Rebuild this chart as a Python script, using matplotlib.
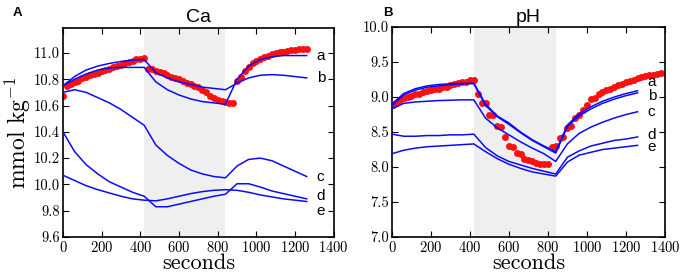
import numpy as np
import matplotlib

matplotlib.use("Agg")
import matplotlib.pyplot as plt
from matplotlib.ticker import FormatStrFormatter

plt.rcParams["font.family"] = "serif"
plt.rcParams["font.serif"] = ["cmr10", "DejaVu Serif"]
plt.rcParams["mathtext.fontset"] = "cm"
plt.rcParams["axes.formatter.use_mathtext"] = True

# ---- data ----
model_t = [0, 60, 120, 180, 240, 300, 360, 420, 480, 540, 600, 660,
           720, 780, 840, 900, 960, 1020, 1080, 1140, 1200, 1260]

ca_a = [10.75, 10.80, 10.84, 10.87, 10.885, 10.89, 10.89, 10.89, 10.78, 10.72, 10.68, 10.65,
        10.63, 10.62, 10.61, 10.80, 10.90, 10.95, 10.97, 10.98, 10.98, 10.98]
ca_b = [10.75, 10.82, 10.87, 10.90, 10.92, 10.935, 10.945, 10.95, 10.85, 10.81, 10.78, 10.76,
        10.74, 10.73, 10.72, 10.77, 10.81, 10.83, 10.835, 10.83, 10.82, 10.81]
ca_c = [10.70, 10.72, 10.70, 10.66, 10.62, 10.57, 10.51, 10.45, 10.30, 10.22, 10.16, 10.11,
        10.08, 10.06, 10.05, 10.14, 10.19, 10.20, 10.18, 10.14, 10.10, 10.06]
ca_d = [10.40, 10.25, 10.15, 10.08, 10.02, 9.98, 9.94, 9.91, 9.83, 9.83, 9.85, 9.87,
        9.89, 9.91, 9.925, 10.005, 10.005, 9.98, 9.95, 9.93, 9.91, 9.89]
ca_e = [10.07, 10.03, 9.99, 9.96, 9.935, 9.91, 9.89, 9.88, 9.875, 9.89, 9.91, 9.93,
        9.945, 9.955, 9.96, 9.955, 9.94, 9.92, 9.905, 9.89, 9.88, 9.87]

ph_a = [8.88, 9.03, 9.10, 9.14, 9.16, 9.18, 9.19, 9.20, 8.90, 8.73, 8.63, 8.50,
        8.39, 8.30, 8.22, 8.60, 8.76, 8.86, 8.94, 9.00, 9.05, 9.09]
ph_b = [8.90, 9.05, 9.12, 9.16, 9.18, 9.19, 9.195, 9.19, 8.88, 8.72, 8.61, 8.49,
        8.38, 8.29, 8.20, 8.58, 8.73, 8.83, 8.91, 8.97, 9.02, 9.06]
ph_c = [8.83, 8.91, 8.93, 8.94, 8.95, 8.955, 8.96, 8.96, 8.70, 8.56, 8.46, 8.36,
        8.27, 8.19, 8.08, 8.33, 8.48, 8.57, 8.64, 8.70, 8.75, 8.79]
ph_d = [8.47, 8.44, 8.44, 8.45, 8.45, 8.46, 8.46, 8.47, 8.28, 8.16, 8.08, 8.03,
        7.98, 7.94, 7.90, 8.14, 8.23, 8.30, 8.34, 8.38, 8.40, 8.43]
ph_e = [8.19, 8.24, 8.27, 8.29, 8.30, 8.31, 8.32, 8.33, 8.22, 8.12, 8.04, 7.98,
        7.93, 7.90, 7.87, 8.07, 8.17, 8.21, 8.25, 8.27, 8.29, 8.31]

# measured points, every 20 s
ca_obs_t = np.arange(0, 1261, 20)
ca_obs = [10.67, 10.75, 10.76, 10.78, 10.79, 10.81, 10.82, 10.83, 10.84, 10.85, 10.86,
          10.87, 10.88, 10.89, 10.90, 10.91, 10.92, 10.93, 10.94, 10.95, 10.955, 10.96,
          10.88, 10.875, 10.865, 10.855, 10.845, 10.83, 10.82, 10.81, 10.80, 10.79, 10.775,
          10.765, 10.75, 10.74, 10.72, 10.70, 10.675, 10.66, 10.645, 10.635, 10.63, 10.62, 10.62,
          10.79, 10.82, 10.86, 10.89, 10.92, 10.94, 10.955, 10.97, 10.98, 10.99, 11.0,
          11.005, 11.01, 11.015, 11.02, 11.025, 11.03, 11.03, 11.03]
ph_obs_t = np.arange(0, 1381, 20)
ph_obs = [8.88, 8.92, 8.96, 8.98, 9.00, 9.02, 9.04, 9.05, 9.07, 9.08, 9.10,
          9.11, 9.12, 9.14, 9.15, 9.17, 9.18, 9.20, 9.21, 9.22, 9.24, 9.25,
          9.04, 8.91, 8.91, 8.75, 8.74, 8.58, 8.57, 8.43, 8.30, 8.29, 8.20,
          8.19, 8.12, 8.10, 8.08, 8.06, 8.05, 8.05, 8.04,
          8.29, 8.30, 8.42, 8.43, 8.56, 8.58, 8.70, 8.74, 8.82, 8.88, 8.97,
          8.98, 9.04, 9.07, 9.10, 9.12, 9.15, 9.17, 9.19, 9.21, 9.23, 9.25,
          9.27, 9.28, 9.30, 9.31, 9.32, 9.33, 9.34]

curve_names = ["a", "b", "c", "d", "e"]
ca_label_y = [10.98, 10.81, 10.06, 9.91, 9.80]
ph_label_y = [9.22, 9.01, 8.79, 8.46, 8.28]

panels = [
    dict(ax_rect=[0.092, 0.1475, 0.396, 0.752], title="Ca", tag="A",
         curves=[ca_a, ca_b, ca_c, ca_d, ca_e], obs_t=ca_obs_t, obs=ca_obs,
         label_y=ca_label_y, ylim=(9.6, 11.19), yticks=np.arange(9.6, 11.01, 0.2)),
    dict(ax_rect=[0.573, 0.1475, 0.399, 0.755], title="pH", tag="B",
         curves=[ph_a, ph_b, ph_c, ph_d, ph_e], obs_t=ph_obs_t, obs=ph_obs,
         label_y=ph_label_y, ylim=(7.0, 10.0), yticks=np.arange(7.0, 10.01, 0.5)),
]

fig = plt.figure(figsize=(6.84, 2.78), dpi=100)

for i, p in enumerate(panels):
    ax = fig.add_axes(p["ax_rect"])
    ax.axvspan(420, 840, color="#efefef", lw=0, zorder=0)
    ax.plot(p["obs_t"], p["obs"], "o", color="#ff1010", ms=5, mec="none", zorder=2)
    for ys in p["curves"]:
        ax.plot(model_t, ys, color="#0a0aff", lw=1.1, zorder=3)
    for name, y in zip(curve_names, p["label_y"]):
        ax.text(1312, y, name, fontsize=11, family="Liberation Sans",
                ha="left", va="center")

    ax.set_xlim(0, 1400)
    ax.set_ylim(*p["ylim"])
    ax.set_xticks(range(0, 1401, 200))
    ax.set_yticks(p["yticks"])
    ax.yaxis.set_major_formatter(FormatStrFormatter("%.1f"))
    ax.tick_params(direction="in", top=True, right=True, length=4, width=0.8,
                   labelsize=10.5, pad=2)
    for spine in ax.spines.values():
        spine.set_linewidth(1.2)
    ax.set_xlabel("seconds", fontsize=16, labelpad=-1)
    ax.set_title(p["title"], fontsize=14, family="Liberation Sans", pad=4)
    if i == 0:
        ax.set_ylabel(r"mmol kg$^{-1}$", fontsize=17, labelpad=1)
    fig.text(p["ax_rect"][0] - (0.073 if i == 0 else 0.013), 0.952, p["tag"],
             fontsize=9.5, weight="bold", family="Liberation Sans",
             ha="left", va="center")

plt.savefig("out.png", dpi=100, facecolor="white")
